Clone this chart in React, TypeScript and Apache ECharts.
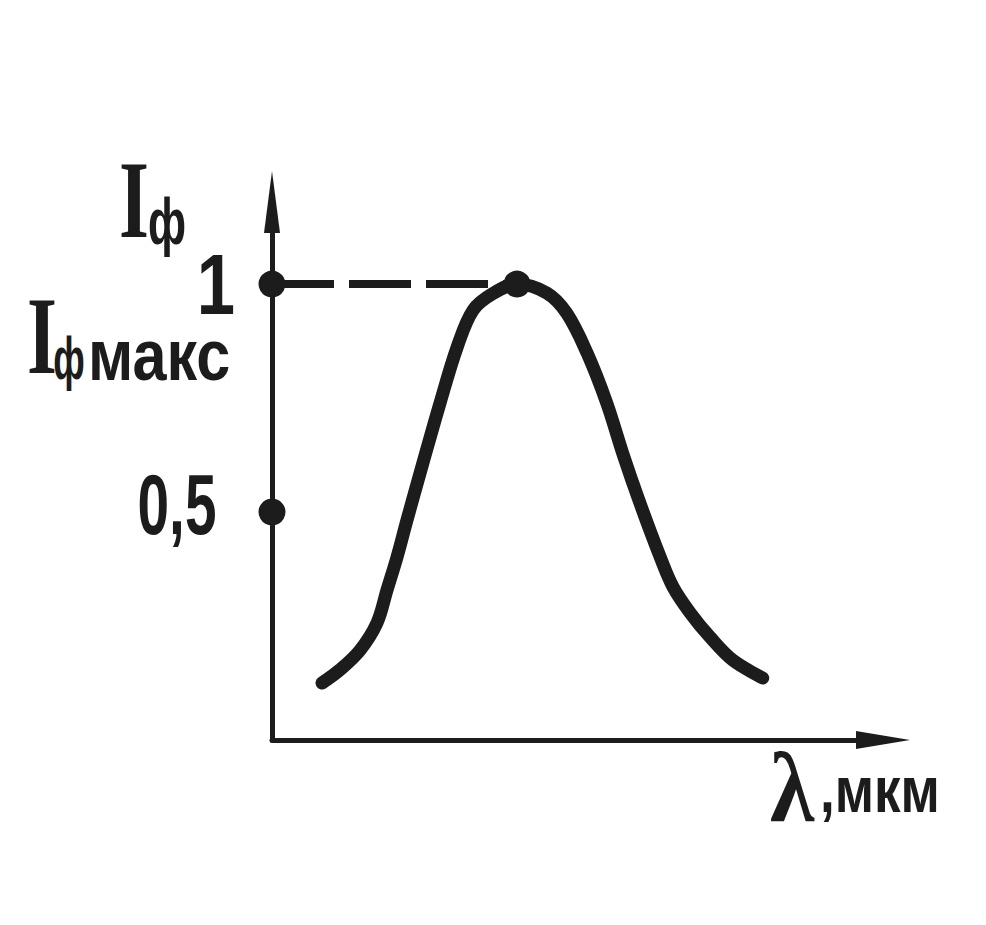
import React, { useEffect, useRef } from "react";
import * as echarts from "echarts";

// Spectral response curve (relative photocurrent vs wavelength)
const curveX = [7.86, 10.68, 13.83, 16.5, 18.07, 19.64, 21.2, 23.7, 26.4, 29.1, 31.6, 34.8, 38.5, 43.2, 46.3, 49.5, 52.6, 55.1, 57.8, 61.0, 63.0, 65.7, 68.8, 72.4, 77.1];
const curveY = [0.125, 0.154, 0.197, 0.257, 0.329, 0.401, 0.482, 0.607, 0.739, 0.862, 0.943, 0.98, 1.0, 0.98, 0.936, 0.849, 0.739, 0.629, 0.52, 0.401, 0.336, 0.279, 0.226, 0.175, 0.136];
const peakX = 38.5;
const peakY = 1;
const markedLevels = [1, 0.5];
const yTickValues = [1, 0.5];
const yTickLabels = ["1", "0,5"];

const INK = "#1c1c1c";
const SANS = "'Liberation Sans', Arial, sans-serif";
const SERIF = "'Liberation Serif', serif";

export default function App() {
  const ref = useRef<HTMLDivElement>(null);
  useEffect(() => {
    document.body.style.margin = "0";
    const chart = echarts.init(ref.current!, null, { renderer: "svg" });
    const curve = curveX.map((x, i) => [x, curveY[i]]);
    chart.setOption({
      animation: false,
      backgroundColor: "#ffffff",
      grid: { left: 272, right: 103, top: 202, bottom: 185 },
      xAxis: {
        type: "value",
        min: 0,
        max: 96,
        axisLine: {
          show: true,
          symbol: ["none", "triangle"],
          symbolSize: [18, 54],
          lineStyle: { color: INK, width: 5 },
        },
        axisTick: { show: false },
        axisLabel: { show: false },
        splitLine: { show: false },
      },
      yAxis: {
        type: "value",
        min: 0,
        max: 1.18,
        interval: 0.5,
        axisLine: {
          show: true,
          symbol: ["none", "triangle"],
          symbolSize: [16, 62],
          lineStyle: { color: INK, width: 5 },
        },
        axisTick: { show: false },
        splitLine: { show: false },
        axisLabel: { show: false },
      },
      series: [
        {
          type: "line",
          data: [[0, peakY], [peakX, peakY]],
          symbol: "none",
          lineStyle: { color: INK, width: 8, type: [62, 15] },
          z: 2,
        },
        {
          type: "line",
          data: curve,
          smooth: 0.35,
          symbol: "none",
          lineStyle: { color: INK, width: 13, cap: "round", join: "round" },
          z: 3,
        },
        {
          type: "scatter",
          data: [...markedLevels.map((v) => [0, v]), [peakX, peakY]],
          symbolSize: 27,
          itemStyle: { color: INK, opacity: 1 },
          z: 4,
        },
      ],
    });

    // tick labels placed from the axis scale (condensed via scaleX)
    const tickGraphics = yTickValues.map((v, i) => {
      const [, py] = chart.convertToPixel({ xAxisIndex: 0, yAxisIndex: 0 }, [0, v]) as number[];
      const isOne = v === 1;
      return {
        type: "text",
        x: isOne ? 216 : 177,
        y: isOne ? py + 1 : py - 8,
        scaleX: isOne ? 0.8 : 0.66,
        style: {
          text: yTickLabels[i],
          fontFamily: SANS,
          fontWeight: "bold",
          fontSize: 86,
          fill: INK,
          align: "center",
          verticalAlign: "middle",
        },
      };
    });

    chart.setOption({
      graphic: [
        ...tickGraphics,
        { type: "text", x: 134, y: 200, scaleX: 0.7, style: { text: "I", fontFamily: SERIF, fontWeight: "bold", fontSize: 110, fill: INK, align: "center", verticalAlign: "middle" } },
        { type: "text", x: 167, y: 222, scaleX: 0.68, style: { text: "ф", fontFamily: SANS, fontWeight: "bold", fontSize: 64, fill: INK, align: "center", verticalAlign: "middle" } },
        { type: "text", x: 42, y: 336, scaleX: 0.7, style: { text: "I", fontFamily: SERIF, fontWeight: "bold", fontSize: 110, fill: INK, align: "center", verticalAlign: "middle" } },
        { type: "text", x: 69, y: 358, scaleX: 0.6, style: { text: "ф", fontFamily: SANS, fontWeight: "bold", fontSize: 60, fill: INK, align: "center", verticalAlign: "middle" } },
        { type: "text", x: 88, y: 355, scaleX: 0.85, style: { text: "макс", fontFamily: SANS, fontWeight: "bold", fontSize: 72, fill: INK, align: "left", verticalAlign: "middle" } },
        { type: "text", x: 770, y: 787, scaleX: 0.9, style: { text: "λ", fontFamily: SERIF, fontWeight: "bold", fontSize: 100, fill: INK, align: "left", verticalAlign: "middle" } },
        { type: "text", x: 820, y: 790, scaleX: 0.83, style: { text: ",мкм", fontFamily: SANS, fontWeight: "bold", fontSize: 64, fill: INK, align: "left", verticalAlign: "middle" } },
      ],
    });
    return () => chart.dispose();
  }, []);
  return <div ref={ref} style={{ width: 986, height: 925 }} />;
}
